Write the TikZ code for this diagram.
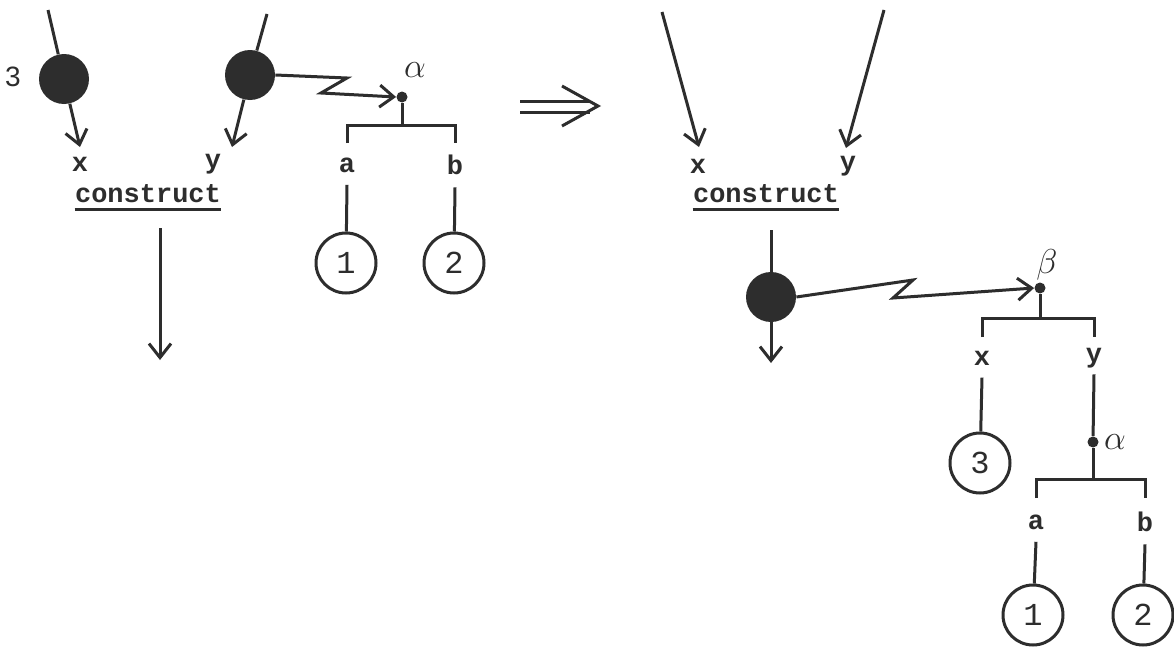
\documentclass[tikz,border=0pt]{standalone}
\usepackage{fontspec}
\setmonofont{Liberation Mono}
\newfontfamily\labsans{Liberation Sans}
\usetikzlibrary{arrows.meta}
\definecolor{ink}{RGB}{45,45,45}
\begin{document}
\begin{tikzpicture}[x=0.5pt,y=-0.5pt,
  line/.style={line width=1.5pt, draw=ink},
  arr/.style={line, -{Straight Barb[length=7pt,width=11pt,line width=1.5pt]}},
  ball/.style={circle, fill=ink, minimum size=25pt, inner sep=0pt},
  leaf/.style={circle, draw=ink, line width=1.5pt, minimum size=30pt, inner sep=0pt, text=ink, font=\fontsize{16}{18}\selectfont\ttfamily},
  lab/.style={font=\fontsize{13.5}{15}\selectfont\ttfamily\bfseries, inner sep=0pt, text=ink},
  gl/.style={font=\fontsize{17}{19}\selectfont, inner sep=0pt, text=ink},
  dot/.style={circle, fill=ink, minimum size=5.5pt, inner sep=0pt},
]
\useasboundingbox (0,0) rectangle (1174,653);
\fill[white] (0,0) rectangle (1174,653);

% ---------- left part ----------
\node[ball] (b1) at (64,79) {};
\node[font=\fontsize{14}{16}\selectfont\labsans, inner sep=0pt, text=ink] (l3) at (13,77) {3};
\coordinate (t1) at (48,10);
\coordinate (x1tip) at (80,147);
\draw[line] (t1) -- (b1);
\draw[arr] (b1) -- (x1tip);

\node[ball] (b2) at (250,75) {};
\coordinate (t2) at (267,14);
\coordinate (y1tip) at (232,147);
\draw[line] (t2) -- (b2);
\draw[arr] (b2) -- (y1tip);

\node[lab] (x1) at (80,164) {x};
\node[lab] (y1) at (213,164) {y};
\node[lab] (c1) at (148,194) {construct};
\draw[line] ([yshift=-3.5pt]c1.base west) -- ([yshift=-3.5pt]c1.base east);
\coordinate (o1) at (160,228);
\coordinate (o1e) at (160,360);
\draw[arr] (o1) -- (o1e);

% zigzag to alpha
\node[dot] (dA) at (402,97) {};
\node[gl] (alA) at (415,70) {$\alpha$};
\coordinate (zA1) at (347,78);
\coordinate (zA2) at (321,93);
\draw[arr] (b2.east) -- (zA1) -- (zA2) -- (dA.west);

% bracket alpha
\coordinate (brA) at (402,125);
\coordinate (brAl) at (347,125);
\coordinate (brAr) at (455,125);
\coordinate (lgAl) at (347,143);
\coordinate (lgAr) at (455,143);
\draw[line] (dA) -- (brA);
\draw[line] (lgAl) -- (brAl) -- (brAr) -- (lgAr);
\node[lab] (a1) at (347,165) {a};
\node[lab] (bb1) at (455,165) {b};
\node[leaf] (n1) at (346,263) {1};
\node[leaf] (n2) at (454,263) {2};
\draw[line] ([yshift=-6pt]a1.south) -- (n1);
\draw[line] ([yshift=-6pt]bb1.south) -- (n2);

% ---------- implies arrow ----------
\coordinate (ia1) at (520,101);
\coordinate (ia2) at (590,101);
\coordinate (ib1) at (520,112);
\coordinate (ib2) at (590,112);
\coordinate (ih1) at (562,86);
\coordinate (ihT) at (598,106);
\coordinate (ih2) at (562,126);
\draw[line] (ia1) -- (ia2);
\draw[line] (ib1) -- (ib2);
\draw[line, line join=miter] (ih1) -- (ihT) -- (ih2);

% ---------- right part ----------
\coordinate (t3) at (662,12);
\coordinate (x2tip) at (699,147);
\coordinate (t4) at (884,10);
\coordinate (y2tip) at (846,148);
\draw[arr] (t3) -- (x2tip);
\draw[arr] (t4) -- (y2tip);
\node[lab] (x2) at (698,166) {x};
\node[lab] (y2) at (848,166) {y};
\node[lab] (c2) at (766,194) {construct};
\draw[line] ([yshift=-3.5pt]c2.base west) -- ([yshift=-3.5pt]c2.base east);

\coordinate (c2o) at (771,230);
\node[ball] (b3) at (771,297) {};
\coordinate (b3tip) at (771,363);
\draw[line] (c2o) -- (b3);
\draw[arr] (b3) -- (b3tip);

\node[dot] (dB) at (1040,288) {};
\node[gl] (beB) at (1047,265) {$\beta$};
\coordinate (zB1) at (913,280);
\coordinate (zB2) at (893,298);
\draw[arr] (b3.east) -- (zB1) -- (zB2) -- (dB.west);

\coordinate (brB) at (1040,318);
\coordinate (brBl) at (982,318);
\coordinate (brBr) at (1094,318);
\coordinate (lgBl) at (982,337);
\coordinate (lgBr) at (1094,337);
\draw[line] (dB) -- (brB);
\draw[line] (lgBl) -- (brBl) -- (brBr) -- (lgBr);
\node[lab] (x3) at (982,358) {x};
\node[lab] (y3) at (1094,358) {y};
\node[leaf] (n3) at (980,463) {3};
\draw[line] ([yshift=-6pt]x3.south) -- (n3);

\node[dot] (dA2) at (1093,442) {};
\node[gl] (alA2) at (1115,442) {$\alpha$};
\draw[line] ([yshift=-3pt]y3.south) -- (dA2);

\coordinate (brC) at (1093,479);
\coordinate (brCl) at (1036,479);
\coordinate (brCr) at (1145,479);
\coordinate (lgCl) at (1036,498);
\coordinate (lgCr) at (1145,498);
\draw[line] (dA2) -- (brC);
\draw[line] (lgCl) -- (brCl) -- (brCr) -- (lgCr);
\node[lab] (a2) at (1036,522) {a};
\node[lab] (bb2) at (1145,522) {b};
\node[leaf] (n4) at (1033,615) {1};
\node[leaf] (n5) at (1143,615) {2};
\draw[line] ([yshift=-6pt]a2.south) -- (n4);
\draw[line] ([yshift=-6pt]bb2.south) -- (n5);
\end{tikzpicture}
\end{document}
